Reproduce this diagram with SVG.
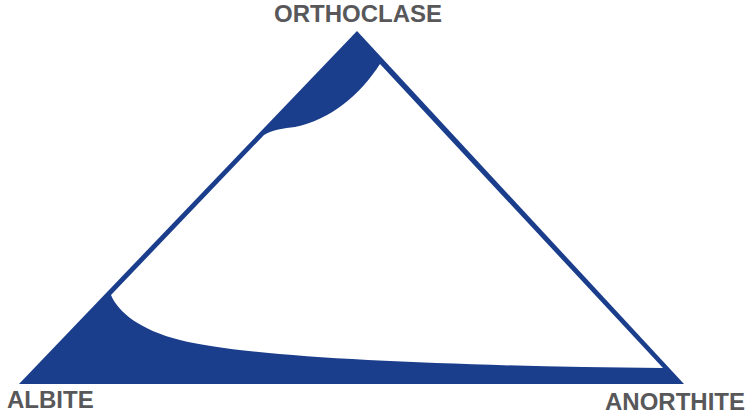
<svg xmlns="http://www.w3.org/2000/svg" width="749" height="420" viewBox="0 0 749 420">
<style>
.lbl{font-family:"Liberation Sans",Arial,sans-serif;font-weight:bold;font-size:24px;fill:#58585a}
</style>
<rect width="749" height="420" fill="#ffffff"/>
<g id="diagram">
<path id="triangle" d="M357,31 L684,384 L19,384 Z" fill="#1b3e8c"/>
<path id="field" d="M264,135 C272,130 284,128 295,127 C330,120 360,95 380,64 L663,368 C450,366 250,358 180,340 C140,330 118,312 111,295 Z" fill="#ffffff"/>
</g>
<g id="labels">
<text class="lbl" x="358" y="22" text-anchor="middle">ORTHOCLASE</text>
<text class="lbl" x="7" y="408">ALBITE</text>
<text class="lbl" x="605" y="410">ANORTHITE</text>
</g>
</svg>
